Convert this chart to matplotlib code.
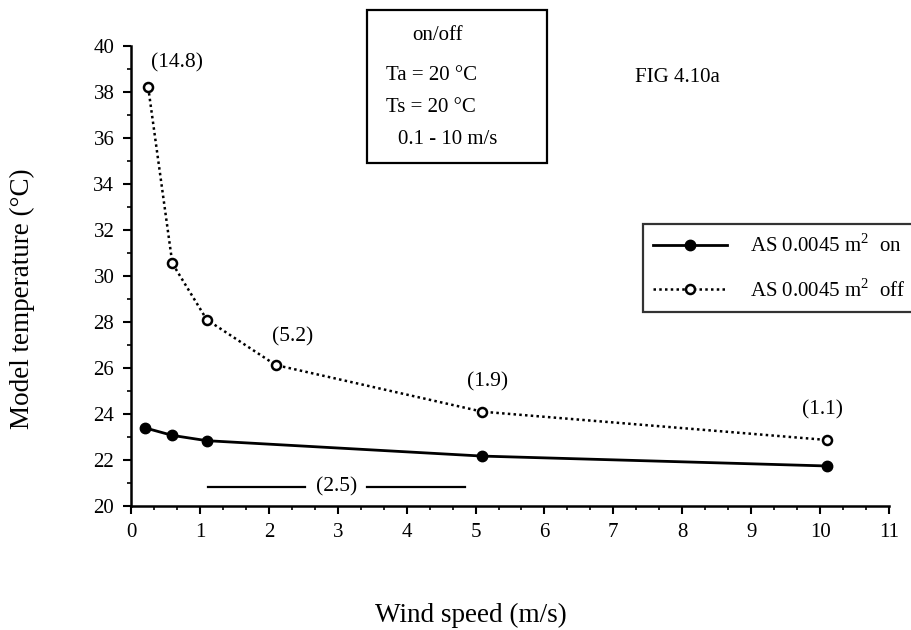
import matplotlib
matplotlib.use("Agg")
import matplotlib.pyplot as plt
from matplotlib.patches import Rectangle

plt.rcParams["font.family"] = ["Liberation Serif", "DejaVu Serif"]
plt.rcParams["mathtext.fontset"] = "custom"
plt.rcParams["mathtext.rm"] = "Liberation Serif"

# data
wind_on = [0.2, 0.6, 1.1, 5.1, 10.1]
temp_on = [23.4, 23.07, 22.84, 22.17, 21.74]
wind_off = [0.25, 0.6, 1.1, 2.1, 5.1, 10.1]
temp_off = [38.2, 30.55, 28.1, 26.13, 24.1, 22.87]

# bracketed labels
note_text = ["(14.8)", "(5.2)", "(1.9)", "(1.1)"]
note_x = [0.67, 2.35, 5.17, 10.04]
note_y = [39.25, 27.35, 25.4, 24.2]

W, H = 911, 630
fig = plt.figure(figsize=(W / 100, H / 100), dpi=100)
ax = fig.add_axes([131 / W, 1 - 506 / H, 758 / W, 460 / H])

line_on, = ax.plot(wind_on, temp_on, color="black", lw=2, marker="o",
                   ms=7.5, mfc="black", mec="black", clip_on=False)
line_off, = ax.plot(wind_off, temp_off, color="black", lw=1.8, ls=(0, (1, 1.3)),
                    marker="o", ms=6.5, mfc="white", mec="black", mew=1.8,
                    clip_on=False)

for t, x, y in zip(note_text, note_x, note_y):
    ax.text(x, y, t, ha="center", va="center", fontsize=15.5)

# the (2.5) bar near the bottom
ax.plot([1.12, 2.52], [20.83, 20.83], color="black", lw=1.6)
ax.plot([3.43, 4.84], [20.83, 20.83], color="black", lw=1.6)
ax.text(2.98, 20.83, "(2.5)", ha="center", va="center", fontsize=15.5)

ax.set_xlim(0, 11)
ax.set_ylim(20, 40)
ax.set_xticks(range(0, 12))
ax.set_yticks(range(20, 41, 2))
ax.set_xticks([i / 3 for i in range(0, 34)], minor=True)
ax.set_yticks(range(20, 41), minor=True)
ax.tick_params(which="major", direction="out", length=6, width=1.5,
               labelsize=15, pad=6)
ax.tick_params(which="minor", direction="out", length=3, width=1.2)
for s in ["top", "right"]:
    ax.spines[s].set_visible(False)
for s in ["left", "bottom"]:
    ax.spines[s].set_linewidth(1.8)

ax.set_xlabel("Wind speed (m/s)", fontsize=19.5)
ax.xaxis.set_label_coords((471 - 131) / 758, -(603 - 506) / 460)
ax.set_ylabel("Model temperature (°C)", fontsize=19.5)
ax.yaxis.set_label_coords(-(131 - 35) / 758, (506 - 299) / 460)

# legend, running off the right edge
leg = fig.legend([line_on, line_off],
                 ["AS 0.0045 m$^2$  on", "AS 0.0045 m$^2$  off"],
                 loc="upper left", bbox_to_anchor=(643 / W, 1 - 224 / H),
                 fontsize=15, frameon=True, fancybox=False, handlelength=3.55,
                 handletextpad=1.1, labelspacing=1.05, borderpad=0.5,
                 borderaxespad=0)
leg.get_frame().set_edgecolor("black")
leg.get_frame().set_linewidth(1.6)

# info box
fig.add_artist(Rectangle((367 / W, 1 - 163 / H), 180 / W, 153 / H,
                         transform=fig.transFigure, fill=False,
                         edgecolor="black", lw=1.6))
fig.text(438 / W, 1 - 36 / H, "on/off", ha="center", va="center", fontsize=15)
fig.text(386 / W, 1 - 75 / H, "Ta = 20 °C", ha="left", va="center", fontsize=15)
fig.text(386 / W, 1 - 107 / H, "Ts = 20 °C", ha="left", va="center", fontsize=15)
fig.text(398 / W, 1 - 140 / H, "0.1 - 10 m/s", ha="left", va="center", fontsize=15)

fig.text(677 / W, 1 - 78 / H, "FIG 4.10a", ha="center", va="center", fontsize=15)

fig.savefig("out.png", dpi=100)
